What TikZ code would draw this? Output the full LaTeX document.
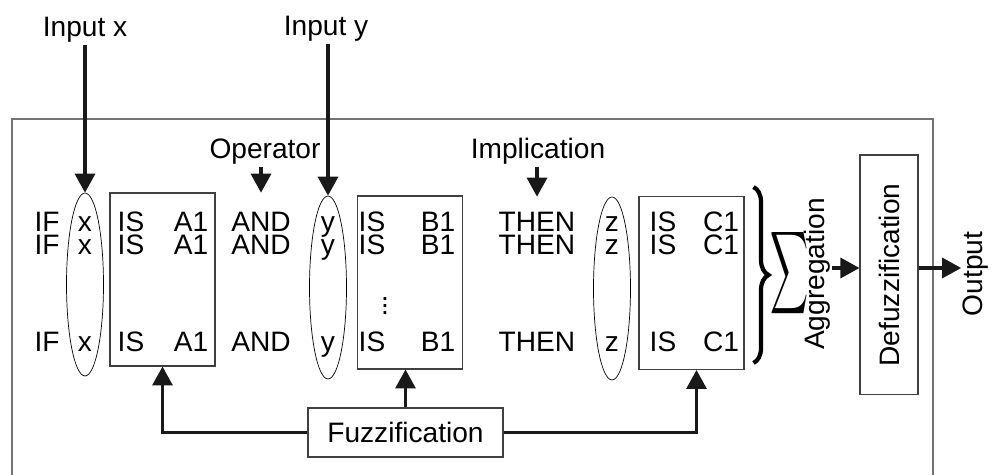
\documentclass[tikz,border=0pt]{standalone}
\usepackage{graphicx}
\usepackage{fontspec}
\setmainfont{Liberation Sans}
\usetikzlibrary{positioning, shapes.geometric, arrows.meta, calc, decorations.pathreplacing}

\begin{document}
\begin{tikzpicture}[
	x=0.02cm, y=-0.02cm,
	% --- ESTILOS ---
	texto/.style={
		font=\fontsize{16}{18}\selectfont, inner sep=1pt
	},
	fila/.style={
		texto, anchor=base
	},
	caja/.style={
		rectangle, draw=black!75, line width=0.6pt,
		minimum width=2.1cm, minimum height=3.46cm
	},
	ovalo/.style={
		ellipse, draw, line width=0.4pt, inner sep=0pt,
		minimum width=0.74cm, minimum height=3.66cm
	},
	bloque/.style={
		texto, rectangle, draw=black!75, line width=0.6pt
	},
	flecha/.style={
		draw, -{Triangle[length=0.38cm, width=0.4cm]}, line width=1.9pt, color=black!90
	},
	marco/.style={
		draw=black!55, line width=0.9pt
	},
	llave/.style={
		draw, decorate, decoration={brace, amplitude=0.3cm}, line width=2.4pt
	}
	]
	\useasboundingbox (0,0) rectangle (992,475);
	
	% --- 1. Marco exterior ---
	\draw [marco] (12,475) -- (12,119) -- (933,119) -- (933,475);
	
	% --- 2. Variables (ovalos) y conjuntos (cajas) ---
	\node [ovalo] (ox) at (85,284.5) {};
	\node [ovalo] (oy) at (328,287.5) {};
	\node [ovalo] (oz) at (612,288.5) {};
	
	\node [caja] (cajaA) at (162.5,279.5) {};
	\node [caja] (cajaB) at (410,282.5) {};
	\node [caja] (cajaC) at (691.5,283) {};
	
	% --- 3. Las reglas ---
	\foreach \r/\yy in {1/232, 2/255, 3/352} {
		\node [fila] (if\r) at (47,\yy) {IF};
		\node [fila] (x\r) at (85,\yy) {x};
		\node [fila] (isa\r) at (131,\yy) {IS};
		\node [fila] (a\r) at (191,\yy) {A1};
		\node [fila] (and\r) at (261,\yy) {AND};
		\node [fila] (y\r) at (328,\yy) {y};
		\node [fila] (isb\r) at (372,\yy) {IS};
		\node [fila] (b\r) at (438,\yy) {B1};
		\node [fila] (then\r) at (537,\yy) {THEN};
		\node [fila] (z\r) at (612,\yy) {z};
		\node [fila] (isc\r) at (663,\yy) {IS};
		\node [fila] (c\r) at (721,\yy) {C1};
	}
	\node [texto] (puntos) at (385,301) {\vdots};
	
	% --- 4. Entradas y operadores ---
	\node [fila] (inx) at (85,37) {Input x};
	\node [fila] (iny) at (326,36) {Input y};
	\node [fila] (oper) at (265,159) {Operator};
	\node [fila] (impl) at (538,159) {Implication};
	
	\draw [flecha] (inx) -- (ox.north);
	\draw [flecha] (iny.south -| oy.north) -- (oy.north);
	\draw [flecha] (oper.south -| and1) -- (and1 |- ox.north);
	\draw [flecha] (impl.south -| then1) -- (then1 |- oz.north);
	
	% --- 5. Fuzzificacion ---
	\node [bloque, minimum width=3.9cm, minimum height=0.98cm] (fuzz) at (405.5,432.5) {Fuzzification};
	
	\draw [flecha] (fuzz.west) -| (cajaA.south);
	\draw [flecha] (fuzz.north) -- (fuzz.north |- cajaB.south);
	\draw [flecha] (fuzz.east) -| ($(cajaC.south)+(5,0)$);
	
	% --- 6. Agregacion, defuzzificacion y salida ---
	\draw [llave] ($(cajaC.north east)+(9,-9)$) -- ($(cajaC.south east)+(9,-7)$);
	\node (sigma) at (790,273) {\scalebox{1.5}[3.3]{$\displaystyle\sum$}};
	\node [texto, rotate=90] (agg) at (817,274) {Aggregation};
	\node [bloque, rotate=90, minimum width=4.8cm, minimum height=1.16cm] (defuzz) at (889,275) {Defuzzification};
	\node [texto, rotate=90] (output) at (976,274) {Output};
	
	\coordinate (nivel) at ($(defuzz.north)+(0,-7)$);
	\draw [flecha] (agg.south |- nivel) -- (nivel);
	\draw [flecha] ($(defuzz.south)+(0,-7)$) -- (output.north |- nivel);
	
\end{tikzpicture}
\end{document}
